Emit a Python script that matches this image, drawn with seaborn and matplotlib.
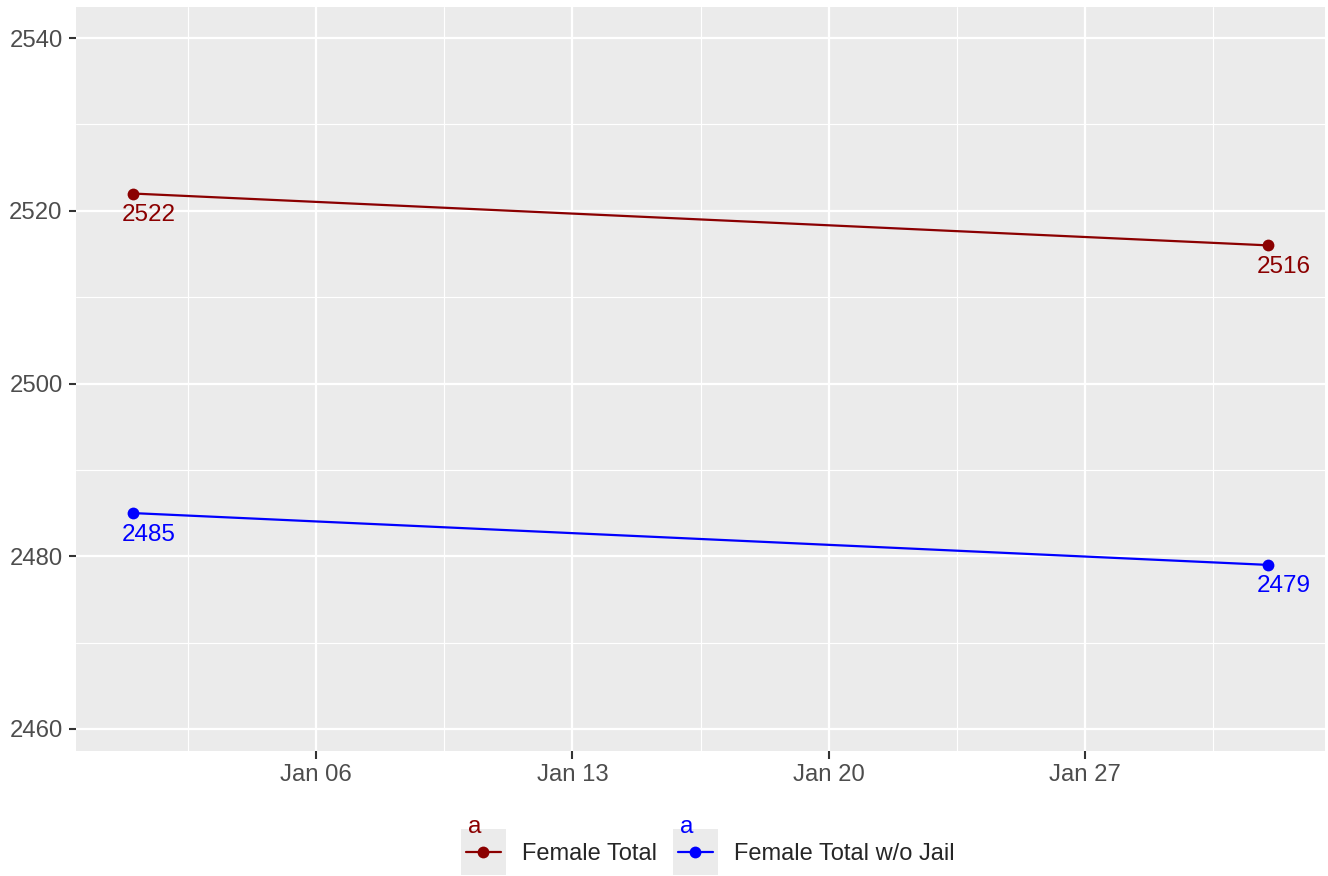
import pandas as pd
import numpy as np
import matplotlib
matplotlib.use("Agg")
import matplotlib.pyplot as plt
import matplotlib.dates as mdates
from matplotlib.lines import Line2D
from matplotlib.patches import Rectangle
from matplotlib.text import Text
from matplotlib.legend_handler import HandlerBase
import seaborn as sns

# data
dates = ["2023-01-01", "2023-02-01"]
female_total = [2522, 2516]
female_total_no_jail = [2485, 2479]
series_names = ["Female Total", "Female Total w/o Jail"]
series_colors = ["#8B0000", "#0000FF"]
tick_dates = ["2023-01-06", "2023-01-13", "2023-01-20", "2023-01-27"]
minor_dates = ["2023-01-02 12:00", "2023-01-09 12:00", "2023-01-16 12:00",
               "2023-01-23 12:00", "2023-01-30 12:00"]
y_ticks = [2460, 2480, 2500, 2520, 2540]
y_minor = [2470, 2490, 2510, 2530]

df = pd.DataFrame({
    "date": pd.to_datetime(dates * 2),
    "value": female_total + female_total_no_jail,
    "series": [series_names[0]] * 2 + [series_names[1]] * 2,
})
palette = dict(zip(series_names, series_colors))

sns.set_theme(style="darkgrid", rc={
    "axes.facecolor": "#EBEBEB",
    "grid.color": "white",
    "axes.edgecolor": "#EBEBEB",
})
plt.rcParams["font.family"] = ["Liberation Sans", "DejaVu Sans"]

fig = plt.figure(figsize=(13.28, 8.76), dpi=100)
ax = fig.add_axes([76 / 1328, 1 - 751 / 876, (1325 - 76) / 1328, (751 - 7) / 876])

sns.lineplot(data=df, x="date", y="value", hue="series", palette=palette,
             marker="o", markersize=8.5, markeredgewidth=0, linewidth=1.6,
             legend=False, ax=ax)

# value labels under each point, nudged a little right
for name, vals in zip(series_names, [female_total, female_total_no_jail]):
    for d, v in zip(dates, vals):
        ax.annotate(str(v), xy=(pd.Timestamp(d), v), xytext=(11.5, -15.5),
                    textcoords="offset points", ha="center", va="center",
                    color=palette[name], fontsize=17.5)

x0 = pd.Timestamp(dates[0]) - pd.Timedelta(days=1.56)
x1 = pd.Timestamp(dates[1]) + pd.Timedelta(days=1.56)
ax.set_xlim(x0, x1)
ax.set_ylim(2457.45, 2543.6)

ax.set_xticks(pd.to_datetime(tick_dates))
ax.xaxis.set_major_formatter(mdates.DateFormatter("%b %d"))
ax.set_xticks(pd.to_datetime(minor_dates), minor=True)
ax.set_yticks(y_ticks)
ax.set_yticks(y_minor, minor=True)

ax.grid(which="major", color="white", linewidth=1.6)
ax.grid(which="minor", color="white", linewidth=0.8)
ax.set_axisbelow(True)
for s in ax.spines.values():
    s.set_visible(False)

ax.tick_params(which="major", bottom=True, left=True, length=5.4, width=1.5,
               color="#333333", labelcolor="#4D4D4D", labelsize=17.2, pad=4.3)
ax.tick_params(which="minor", bottom=False, left=False, length=0)
ax.set_xlabel("")
ax.set_ylabel("")


class KeyHandler(HandlerBase):
    # ggplot-like key: grey box, line with point, small "a" on top
    def create_artists(self, legend, orig_handle, xdescent, ydescent,
                       width, height, fontsize, trans):
        c = orig_handle.get_color()
        side = 33.0
        cx = -xdescent + width / 2
        cy = -ydescent + height / 2
        box = Rectangle((cx - side / 2, cy - side / 2), side, side,
                        facecolor="#EBEBEB", edgecolor="none", transform=trans)
        ln = Line2D([cx - 0.39 * side, cx + 0.39 * side], [cy, cy],
                    color=c, linewidth=1.6, transform=trans)
        pt = Line2D([cx], [cy], marker="o", markersize=8.5,
                    markeredgewidth=0, color=c, linestyle="none",
                    transform=trans)
        txt = Text(cx - 6.5, cy + side / 2 - 3.0, "a", color=c,
                   fontsize=17.5, ha="center", va="baseline", transform=trans)
        return [box, ln, pt, txt]


handles = [Line2D([], [], color=c) for c in series_colors]
fig.legend(handles, series_names, loc="center", bbox_to_anchor=(0.533, 1 - 853 / 876),
           ncol=2, frameon=False, fontsize=17, handlelength=33 / 17, handleheight=1.0,
           handletextpad=0.68, columnspacing=0.64, borderpad=0, borderaxespad=0,
           handler_map={Line2D: KeyHandler()})

fig.savefig("out.png", dpi=100)
